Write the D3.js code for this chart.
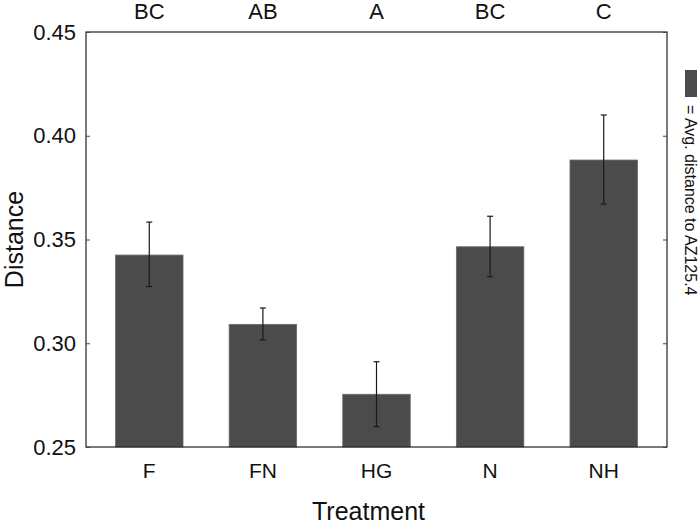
<!DOCTYPE html>
<html>
<head>
<meta charset="utf-8">
<script src="https://cdn.jsdelivr.net/npm/d3@7"></script>
<style>
  body { margin: 0; background: #fff; }
  text { font-family: "Liberation Sans", Arial, sans-serif; fill: #111; }
</style>
</head>
<body>
<div id="chart"></div>
<script>
// valori
const treatments = ["F", "FN", "HG", "N", "NH"];
const groups = ["BC", "AB", "A", "BC", "C"];
const meanDistance = [0.3425, 0.3091, 0.2754, 0.3465, 0.3883];
const errLow = [0.3273, 0.3016, 0.2598, 0.3321, 0.3671];
const errHigh = [0.3584, 0.3170, 0.2911, 0.3612, 0.4100];
const yTicks = [0.25, 0.30, 0.35, 0.40, 0.45];

const W = 700, H = 525;
const margin = { top: 32, right: 33, bottom: 78, left: 86 },
  width = W - margin.left - margin.right,
  height = H - margin.top - margin.bottom;

const svg = d3.select("#chart").append("svg")
  .attr("width", W)
  .attr("height", H),
  g = svg.append("g")
    .attr("transform", "translate(" + margin.left + "," + margin.top + ")");

const x = d3.scaleBand()
  .domain(treatments)
  .range([0, width])
  .paddingInner(0.406)
  .paddingOuter(0.26);

const y = d3.scaleLinear()
  .domain([0.25, 0.45])
  .range([height, 0]);

const rows = treatments.map((t, i) => ({
  t: t, grp: groups[i], v: meanDistance[i], lo: errLow[i], hi: errHigh[i]
}));

// barre
g.selectAll(".bar")
  .data(rows)
  .enter().append("rect")
  .attr("class", "bar")
  .attr("x", d => x(d.t))
  .attr("width", x.bandwidth())
  .attr("y", d => y(d.v))
  .attr("height", d => height - y(d.v))
  .style("fill", "#4b4b4b")
  .style("stroke", "#6a6a6a")
  .style("stroke-width", 0.8);

// barre d'errore
const err = g.selectAll(".err")
  .data(rows)
  .enter().append("g")
  .attr("class", "err")
  .attr("transform", d => "translate(" + (x(d.t) + x.bandwidth() / 2) + ",0)")
  .style("stroke", "#1a1a1a")
  .style("stroke-width", 1.2);

err.append("line")
  .attr("y1", d => y(d.lo))
  .attr("y2", d => y(d.hi));
err.append("line")
  .attr("x1", -3).attr("x2", 3)
  .attr("y1", d => y(d.hi)).attr("y2", d => y(d.hi));
err.append("line")
  .attr("x1", -3).attr("x2", 3)
  .attr("y1", d => y(d.lo)).attr("y2", d => y(d.lo));

// riquadro
g.append("rect")
  .attr("width", width)
  .attr("height", height)
  .style("fill", "none")
  .style("stroke", "#222")
  .style("stroke-width", 1.2);

// asse y a sinistra, tacche verso l'interno
const yAxis = g.append("g")
  .call(d3.axisLeft(y).tickValues(yTicks).tickFormat(d3.format(".2f")).tickSizeInner(-4).tickSizeOuter(0).tickPadding(10));
yAxis.select(".domain").remove();
yAxis.selectAll("line").style("stroke", "#444");
yAxis.selectAll("text").style("font-size", "22px").style("fill", "#111");

// tacche a destra
const yRight = g.append("g")
  .attr("transform", "translate(" + width + ",0)")
  .call(d3.axisRight(y).tickValues(yTicks).tickFormat("").tickSizeInner(-4).tickSizeOuter(0));
yRight.select(".domain").remove();
yRight.selectAll("line").style("stroke", "#444");

// etichette in basso
const xAxis = g.append("g")
  .attr("transform", "translate(0," + height + ")")
  .call(d3.axisBottom(x).tickSize(0).tickPadding(16));
xAxis.select(".domain").remove();
xAxis.selectAll("text").style("font-size", "21px").style("fill", "#111");

// lettere dei gruppi in alto
g.selectAll(".grp")
  .data(rows)
  .enter().append("text")
  .attr("class", "grp")
  .attr("x", d => x(d.t) + x.bandwidth() / 2)
  .attr("y", -13)
  .style("text-anchor", "middle")
  .style("font-size", "22px")
  .text(d => d.grp);

// titoli assi
svg.append("text")
  .attr("transform", "translate(23," + (margin.top + height / 2) + ") rotate(-90)")
  .style("text-anchor", "middle")
  .style("font-size", "25px")
  .text("Distance");

svg.append("text")
  .attr("x", margin.left + width / 2 - 8)
  .attr("y", 520)
  .style("text-anchor", "middle")
  .style("font-size", "25px")
  .text("Treatment");

// legenda
svg.append("rect")
  .attr("x", 685)
  .attr("y", 70)
  .attr("width", 12)
  .attr("height", 27)
  .style("fill", "#4b4b4b");

svg.append("text")
  .attr("transform", "translate(685,105) rotate(90)")
  .style("text-anchor", "start")
  .style("font-size", "16px")
  .text("= Avg. distance to AZ125.4");
</script>
</body>
</html>
